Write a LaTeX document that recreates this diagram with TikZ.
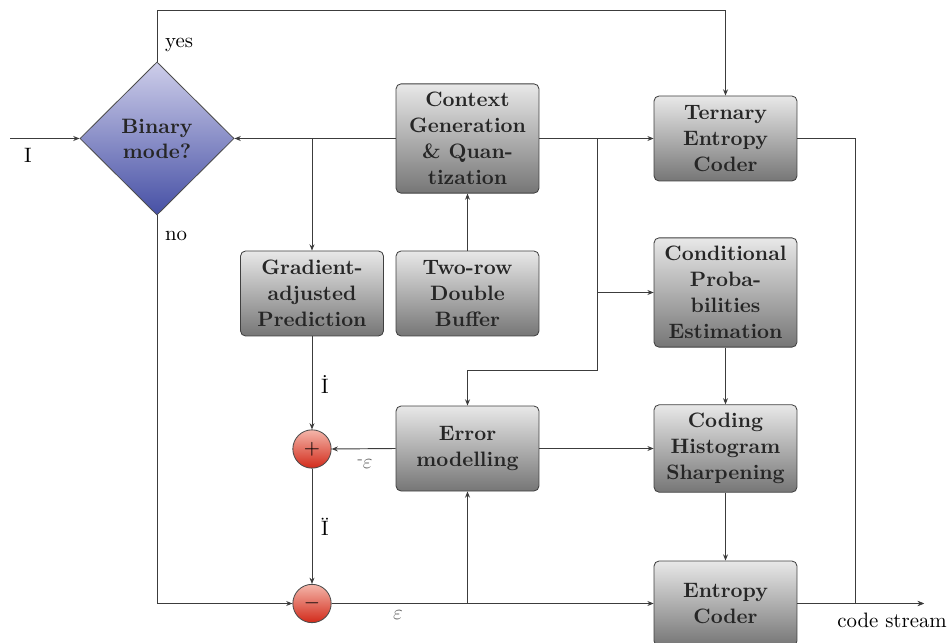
\documentclass[tikz,border=0pt]{standalone}
\usetikzlibrary{shapes.geometric,arrows.meta,calc}
\definecolor{boxtop}{RGB}{232,232,232}
\definecolor{boxbot}{RGB}{118,118,118}
\definecolor{diatop}{RGB}{206,206,234}
\definecolor{diabot}{RGB}{70,80,165}
\definecolor{redtop}{RGB}{244,182,170}
\definecolor{redbot}{RGB}{210,42,26}
\definecolor{linec}{RGB}{60,60,60}
\tikzset{
  procbox/.style={rectangle, rounded corners=2.4pt, draw=black!75, top color=boxtop, bottom color=boxbot,
    minimum width=68.6pt, minimum height=40.8pt, inner xsep=3pt, inner ysep=4pt, align=center,
    font=\bfseries\linespread{1.04}\selectfont, text=black!85},
  decbox/.style={diamond, draw=black!70, top color=diatop, bottom color=diabot, minimum width=74pt,
    minimum height=73.5pt, inner sep=0pt, align=center, font=\bfseries, text=black!85},
  sumcirc/.style={circle, draw=black!70, top color=redtop, bottom color=redbot, minimum size=18.4pt, inner sep=0pt},
  arr/.style={draw=linec, line width=0.45pt, -{Stealth[length=3pt,width=2.4pt]}},
  lbl/.style={inner sep=1pt},
  glbl/.style={inner sep=1pt, text=black!60}
}
\begin{document}
\begin{tikzpicture}[x=0.48pt,y=-0.48pt]
\useasboundingbox (0,0) rectangle (949,643);
% nodes
\node[decbox] (dia) at (157,138.5) {Binary\\mode?};
\node[procbox] (ctx) at (467.5,138.5) {Context\\Generation\\\& Quan-\\tization};
\node[procbox] (tern) at (725.5,138.5) {Ternary\\Entropy\\Coder};
\node[procbox] (grad) at (312,293.5) {Gradient-\\adjusted\\Prediction};
\node[procbox] (two) at (467.5,293.5) {Two-row\\Double\\Buffer};
\node[procbox] (cond) at (725.5,292.5) {Conditional\\Proba-\\bilities\\Estimation};
\node[procbox] (err) at (467.5,448.5) {Error\\modelling};
\node[procbox] (hist) at (725.5,448.5) {Coding\\Histogram\\Sharpening};
\node[procbox] (ent) at (725.5,603.5) {Entropy\\Coder};
\node[sumcirc] (plus) at (312,449) {$+$};
\node[sumcirc] (minus) at (312,603.5) {$-$};
% coordinates
\coordinate (inp) at (10,138.5);
\coordinate (ytop) at (157,10);
\coordinate (br) at (597,138.5);
\coordinate (br2) at (597,370);
\coordinate (ob) at (855,603.5);
\coordinate (out) at (924,603.5);
% connectors
\draw[arr] (inp) -- (dia.west);
\draw[arr] (dia.north) -- (ytop) -| (tern.north);
\draw[arr] (dia.south) |- (minus.west);
\draw[arr] (ctx.west) -- (dia.east);
\draw[arr] (grad.north |- ctx.west) -- (grad.north);
\draw[arr] (ctx.east) -- (tern.west);
\draw[arr] (br) |- (cond.west);
\draw[arr] (br) -- (br2) -| (err.north);
\draw[arr] (two.north) -- (ctx.south);
\draw[arr] (grad.south) -- (plus.north);
\draw[arr] (err.west) -- (plus.east);
\draw[arr] (plus.south) -- (minus.north);
\draw[arr] (minus.east) -- (ent.west);
\draw[arr] (minus.east) -| (err.south);
\draw[arr] (err.east) -- (hist.west);
\draw[arr] (cond.south) -- (hist.north);
\draw[arr] (hist.south) -- (ent.north);
\draw[arr] (tern.east) -| (ob) -- (out);
\draw[arr] (ent.east) -- (out);
% labels
\node[lbl] (lI) at (28,155) {I};
\node[lbl] (lyes) at (179,45) {yes};
\node[lbl] (lno) at (176,236) {no};
\node[lbl] (lId) at (325,384) {\.{I}};
\node[lbl] (lIdd) at (325,527) {\"{I}};
\node[glbl] (leps1) at (365,464) {\raisebox{2.5pt}{\scriptsize -}$\varepsilon$};
\node[glbl] (leps2) at (398,615) {$\varepsilon$};
\node[lbl] (lcs) at (892,620) {code stream};
\end{tikzpicture}
\end{document}
